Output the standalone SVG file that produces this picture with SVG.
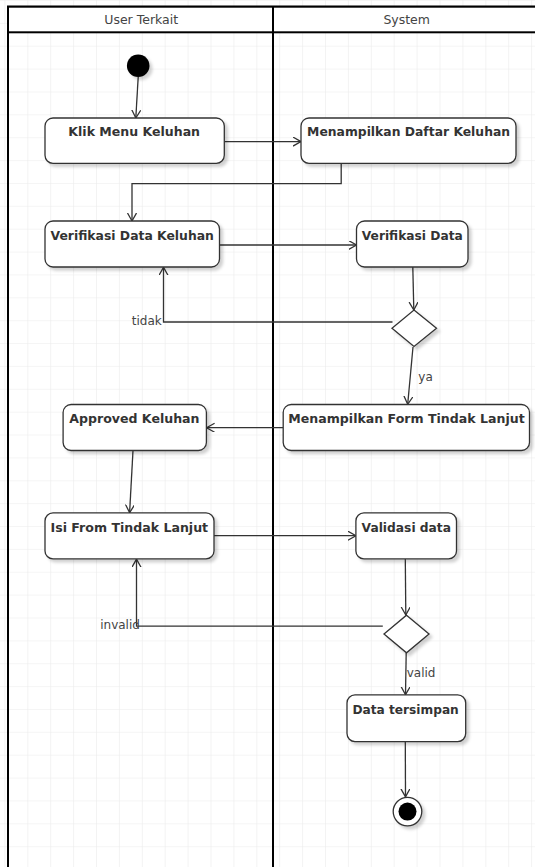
<svg xmlns="http://www.w3.org/2000/svg" width="535" height="867" viewBox="0 0 535 867">
  <style>
    .lane { fill: none; stroke: #000; stroke-width: 2; }
    .head { fill: #fff; stroke: #000; stroke-width: 2; }
    .head-txt { font-family: "DejaVu Sans", sans-serif; font-size: 12.5px; fill: #444; text-anchor: middle; }
    .act { fill: #fff; stroke: #333; stroke-width: 1.3; filter: url(#shadow); }
    .act-txt { font-family: "DejaVu Sans", sans-serif; font-size: 11.5px; font-weight: bold; fill: #333; text-anchor: middle; }
    .dec { fill: #fff; stroke: #333; stroke-width: 1.3; filter: url(#shadow); }
    .edge { fill: none; stroke: #333; stroke-width: 1.3; marker-end: url(#open); }
    .edge-txt { font-family: "DejaVu Sans", sans-serif; font-size: 12px; fill: #444; }
  </style>
  <defs>
    <pattern id="grid" x="4.4" y="0" width="22.9" height="22.87" patternUnits="userSpaceOnUse">
      <path d="M 22.9 0 L 0 0 0 22.87" fill="none" stroke="#ececec" stroke-width="1.2"/>
    </pattern>
    <filter id="shadow" x="-20%" y="-20%" width="150%" height="160%">
      <feDropShadow dx="3" dy="3" stdDeviation="1.6" flood-color="#000" flood-opacity="0.18"/>
    </filter>
    <marker id="open" markerUnits="userSpaceOnUse" markerWidth="12" markerHeight="12" refX="8" refY="4.5" orient="auto">
      <path d="M 0 0 L 8 4.5 L 0 9" fill="none" stroke="#333" stroke-width="1.3"/>
    </marker>
  </defs>

  <!-- background grid -->
  <rect width="535" height="867" fill="#fff"/>
  <rect width="535" height="867" fill="url(#grid)"/>

  <!-- swimlanes -->
  <g id="lanes">
    <rect class="lane" x="8" y="6.7" width="540" height="880"/>
    <line class="lane" x1="273" y1="6.7" x2="273" y2="870"/>
    <rect class="head" x="8" y="6.7" width="540" height="25.6"/>
    <line class="lane" x1="273" y1="6.7" x2="273" y2="32.3"/>
    <text class="head-txt" x="141.2" y="24.3">User Terkait</text>
    <text class="head-txt" x="406.7" y="24.3">System</text>
  </g>

  <!-- connectors -->
  <g id="connectors">
    <path class="edge" d="M 138.2 77 L 135.8 118"/>
    <path class="edge" d="M 224.3 141.6 L 301 141.6"/>
    <path class="edge" d="M 341.2 163.3 V 183.6 H 132 V 221"/>
    <path class="edge" d="M 219.5 245 L 356.5 245"/>
    <path class="edge" d="M 412.8 267 L 413.8 310"/>
    <path class="edge" d="M 392.5 322 H 163.5 V 267.3"/>
    <path class="edge" d="M 413 347 L 407.7 404.3"/>
    <path class="edge" d="M 283.2 427.7 L 206.6 427.7"/>
    <path class="edge" d="M 133 450.5 L 129.6 512.7"/>
    <path class="edge" d="M 214 535.7 L 355.9 535.7"/>
    <path class="edge" d="M 405.3 559 L 405.8 615"/>
    <path class="edge" d="M 382.8 626.2 H 136.5 V 559.2"/>
    <path class="edge" d="M 406.2 653 L 405.5 694.7"/>
    <path class="edge" d="M 405.3 741.6 L 405.5 796.8"/>
    <text class="edge-txt" x="161.7" y="325" text-anchor="end">tidak</text>
    <text class="edge-txt" x="418.3" y="380.5">ya</text>
    <text class="edge-txt" x="139.9" y="628.9" text-anchor="end">invalid</text>
    <text class="edge-txt" x="406.7" y="677.3">valid</text>
  </g>

  <!-- nodes -->
  <g id="start">
    <circle cx="138.2" cy="65.8" r="11.3" fill="#000" filter="url(#shadow)"/>
  </g>
  <g id="klik-menu-keluhan">
    <rect class="act" x="45" y="118" width="179.3" height="45.3" rx="8"/>
    <text class="act-txt" x="134.2" y="136.3" textLength="131.7" lengthAdjust="spacingAndGlyphs">Klik Menu Keluhan</text>
  </g>
  <g id="menampilkan-daftar-keluhan">
    <rect class="act" x="301" y="118" width="215" height="45.3" rx="8"/>
    <text class="act-txt" x="408.6" y="136.3" textLength="203" lengthAdjust="spacingAndGlyphs">Menampilkan Daftar Keluhan</text>
  </g>
  <g id="verifikasi-data-keluhan">
    <rect class="act" x="45" y="221" width="174.5" height="46" rx="8"/>
    <text class="act-txt" x="132.2" y="239.6" textLength="163.4" lengthAdjust="spacingAndGlyphs">Verifikasi Data Keluhan</text>
  </g>
  <g id="verifikasi-data">
    <rect class="act" x="356.5" y="221" width="111.5" height="46" rx="8"/>
    <text class="act-txt" x="412.3" y="239.6" textLength="101" lengthAdjust="spacingAndGlyphs">Verifikasi Data</text>
  </g>
  <g id="decision-verifikasi">
    <polygon class="dec" points="414,310 436.5,328.2 414,346.4 392,328.2"/>
  </g>
  <g id="menampilkan-form-tindak-lanjut">
    <rect class="act" x="283.2" y="404.5" width="246.3" height="46" rx="8"/>
    <text class="act-txt" x="406.5" y="423.1" textLength="236.4" lengthAdjust="spacingAndGlyphs">Menampilkan Form Tindak Lanjut</text>
  </g>
  <g id="approved-keluhan">
    <rect class="act" x="63.1" y="404.5" width="143.3" height="46" rx="8"/>
    <text class="act-txt" x="134.4" y="423.1" textLength="130.3" lengthAdjust="spacingAndGlyphs">Approved Keluhan</text>
  </g>
  <g id="isi-form-tindak-lanjut">
    <rect class="act" x="45" y="512.9" width="169" height="46" rx="8"/>
    <text class="act-txt" x="129.3" y="532" textLength="157.6" lengthAdjust="spacingAndGlyphs">Isi From Tindak Lanjut</text>
  </g>
  <g id="validasi-data">
    <rect class="act" x="355.9" y="512.9" width="100.6" height="46" rx="8"/>
    <text class="act-txt" x="406.3" y="532" textLength="89.4" lengthAdjust="spacingAndGlyphs">Validasi data</text>
  </g>
  <g id="decision-validasi">
    <polygon class="dec" points="406.5,615.2 429,634 406.5,652.8 384,634"/>
  </g>
  <g id="data-tersimpan">
    <rect class="act" x="347" y="694.9" width="118.7" height="46.7" rx="8"/>
    <text class="act-txt" x="405.6" y="714.2" textLength="106.4" lengthAdjust="spacingAndGlyphs">Data tersimpan</text>
  </g>
  <g id="end">
    <circle cx="407.5" cy="811.6" r="14.3" fill="#fff" stroke="#333" stroke-width="1.3" filter="url(#shadow)"/>
    <circle cx="407.5" cy="811.6" r="9" fill="#000"/>
  </g>
</svg>
